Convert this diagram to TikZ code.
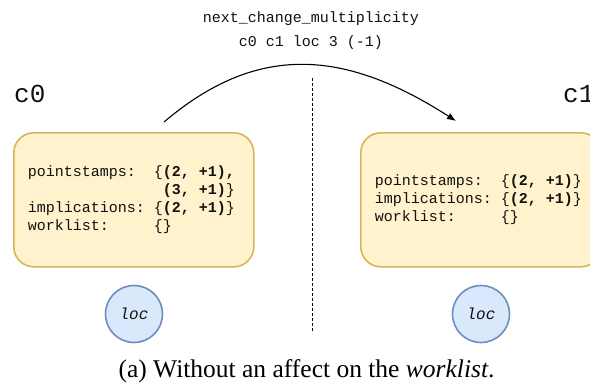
\documentclass[tikz,border=0pt]{standalone}
\usepackage{fontspec}
\setmainfont{Liberation Serif}
\setmonofont{Liberation Mono}
\usetikzlibrary{arrows.meta,positioning}
\definecolor{ink}{HTML}{111111}
\definecolor{stateline}{HTML}{D6B656}
\definecolor{statefill}{HTML}{FFF2CC}
\definecolor{locline}{HTML}{6C8EBF}
\definecolor{locfill}{HTML}{DAE8FC}
% blank columns in the monospaced state text
\newcommand{\tsp}[1]{\hspace*{\dimexpr #1\fontcharwd\font`x\relax}}
\tikzset{
  statebox/.style={draw=stateline, fill=statefill, rounded corners=20pt, line width=1.6pt, anchor=north west, minimum width=240pt, minimum height=134pt, text width=212pt, inner xsep=14pt, inner ysep=0pt, align=left, text=ink, font=\ttfamily\fontsize{15}{18}\selectfont},
  locnode/.style={circle, draw=locline, fill=locfill, line width=1.6pt, minimum size=57pt, inner sep=0pt, text=ink, font=\ttfamily\itshape\fontsize{16}{18}\selectfont},
  clockname/.style={anchor=base west, inner sep=0pt, text=ink, font=\ttfamily\fontsize{26}{30}\selectfont},
  cmdtext/.style={anchor=base, inner sep=0pt, text=ink, font=\ttfamily\fontsize{15}{18}\selectfont},
  captiontext/.style={anchor=base, inner sep=0pt, text=black, font=\fontsize{25.5}{30}\selectfont},
  flow/.style={-{Latex[length=9pt,width=7pt]}, line width=1.1pt, draw=black},
  divider/.style={draw=black, line width=0.9pt, dash pattern=on 3pt off 2pt},
}

\begin{document}
\begin{tikzpicture}[x=1pt,y=-1pt]
\useasboundingbox (0,0) rectangle (590,383);
% operation on top
\node[cmdtext] (cmdname) at (311,22) {next\_change\_multiplicity};
\node[cmdtext] (cmdargs) at (311,46) {c0 c1 loc 3 (-1)};
% the two clocks
\node[clockname] (c0name) at (14,102) {c0};
\node[clockname] (c1name) at (563,102) {c1};
\node[statebox] (c0state) at (13,132) {pointstamps:\tsp{2}\{\textbf{(2,\tsp{1}+1),}\\
\tsp{15}\textbf{(3,\tsp{1}+1)}\}\\
implications:\tsp{1}\{\textbf{(2,\tsp{1}+1)}\}\\
worklist:\tsp{5}\{\}};
\node[statebox] (c1state) at (360,132) {pointstamps:\tsp{2}\{\textbf{(2,\tsp{1}+1)}\}\\
implications:\tsp{1}\{\textbf{(2,\tsp{1}+1)}\}\\
worklist:\tsp{5}\{\}};
\node[locnode] (c0loc) at (134,314) {loc};
\node[locnode] (c1loc) at (481,314) {loc};
% before / after
\coordinate (divtop) at (312,78);
\coordinate (divbot) at (312,333);
\draw[divider] (divtop) -- (divbot);
\coordinate (src) at (164,122);
\coordinate (dst) at (456,121);
\draw[flow] (src) .. controls (257,43) and (344,49) .. (dst);
\node[captiontext] (cap) at (306.5,377) {(a) Without an affect on the \textit{worklist}.};
\end{tikzpicture}
\end{document}
